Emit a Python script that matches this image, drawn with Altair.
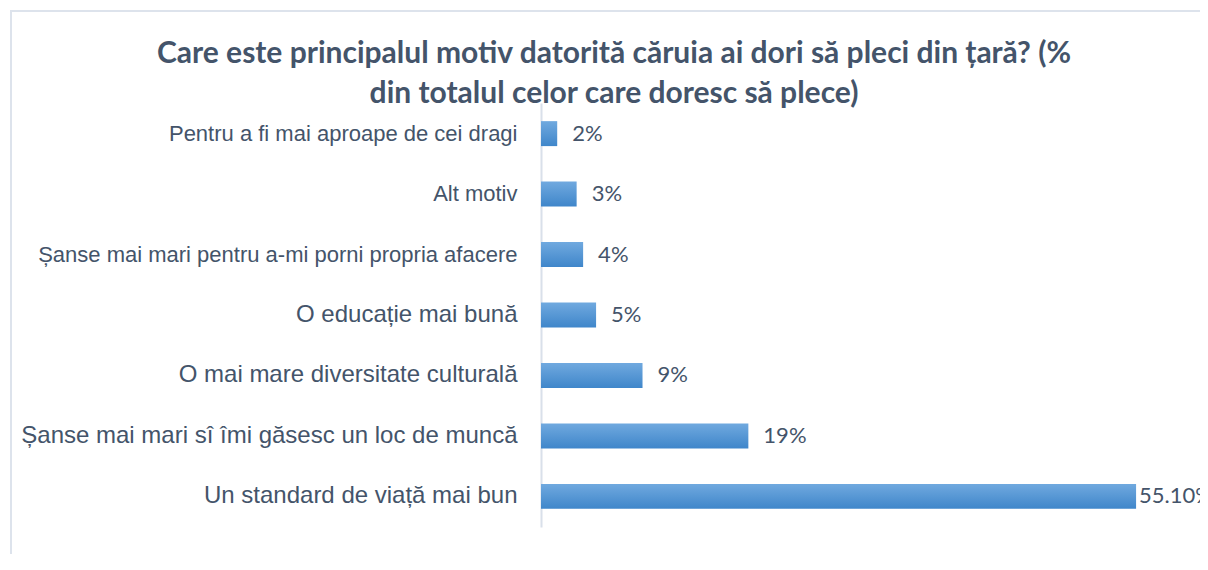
import json
import altair as alt
import pandas as pd

categories = [
    "Pentru a fi mai aproape de cei dragi",
    "Alt motiv",
    "Șanse mai mari pentru a-mi porni propria afacere",
    "O educație mai bună",
    "O mai mare diversitate culturală",
    "Șanse mai mari sî îmi găsesc un loc de muncă",
    "Un standard de viață mai bun",
]
values = [1.5, 3.3, 3.9, 5.1, 9.4, 19.2, 55.1]
value_labels = ["2%", "3%", "4%", "5%", "9%", "19%", "55.10%"]

title_lines = [
    "Care este principalul motiv datorită căruia ai dori să pleci din țară? (%",
    "din totalul celor care doresc să plece)",
]

df = pd.DataFrame({"motiv": categories, "procent": values, "eticheta": value_labels})

W, H = 648, 424
TXT = "#44546A"

small_test = "indexof(" + json.dumps(categories[:3], ensure_ascii=False) + ", datum.value) >= 0"

y_enc = alt.Y(
    "motiv:N",
    sort=categories,
    scale=alt.Scale(paddingInner=0.587, paddingOuter=0.3),
    axis=alt.Axis(
        title=None,
        ticks=False,
        grid=False,
        labelFont="Liberation Sans",
        labelFontSize={"condition": {"test": small_test, "value": 22}, "value": 24},
        labelColor=TXT,
        labelPadding=24,
        labelLimit=0,
        domainColor="#D9E0EA",
        domainWidth=2,
    ),
)
x_enc = alt.X("procent:Q", scale=alt.Scale(domain=[0, 60]), axis=None)

gradient = alt.LinearGradient(
    gradient="linear",
    stops=[
        alt.GradientStop(color="#70A9DF", offset=0),
        alt.GradientStop(color="#3F86CA", offset=1),
    ],
    x1=0, x2=0, y1=0, y2=1,
)

frame = alt.Chart(alt.Data(values=[{}])).mark_rect(
    fillOpacity=0, stroke="#DDE3EC", strokeWidth=2
).encode(
    x=alt.value(-530), x2=alt.value(W + 200),
    y=alt.value(-92), y2=alt.value(H + 200),
)

bars = alt.Chart(df).mark_bar(color=gradient).encode(y=y_enc, x=x_enc)

labels_small = alt.Chart(df).transform_filter("datum.procent < 50").mark_text(
    align="left", baseline="middle", dx=15, font="Lato", fontSize=22, color=TXT
).encode(y=alt.Y("motiv:N", sort=categories), x=x_enc, text="eticheta:N")

labels_big = alt.Chart(df).transform_filter("datum.procent >= 50").mark_text(
    align="left", baseline="middle", dx=3, font="Lato", fontSize=22, color=TXT
).encode(y=alt.Y("motiv:N", sort=categories), x=x_enc, text="eticheta:N")

chart = alt.layer(frame, bars, labels_small, labels_big).properties(
    width=W,
    height=H,
    padding={"left": 533, "top": 95, "right": 11, "bottom": 27},
    autosize=alt.AutoSizeParams(type="none"),
    title=alt.TitleParams(
        text=title_lines,
        anchor="middle",
        dx=-251,
        dy=103,
        font="Lato",
        fontWeight="bold",
        fontSize=30,
        lineHeight=40,
        color=TXT,
    ),
).configure_view(stroke=None)

chart.save("out.html", embed_options={"renderer": "svg", "actions": False})
